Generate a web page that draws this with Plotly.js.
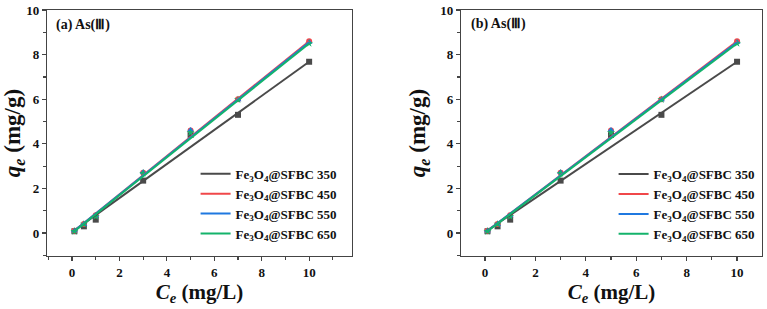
<!DOCTYPE html>
<html>
<head>
<meta charset="utf-8">
<script src="https://cdn.plot.ly/plotly-3.0.1.min.js"></script>
<style>html,body{margin:0;padding:0;background:#fff;}#chart{width:767px;height:309px;}</style>
</head>
<body>
<div id="chart"></div>
<script>
// Data
const ce = [0.1, 0.5, 1, 3, 5, 7, 10];
const q350 = [0.08, 0.3, 0.6, 2.35, 4.4, 5.3, 7.68];
const q450 = [0.1, 0.4, 0.8, 2.7, 4.6, 6.0, 8.6];
const q550 = [0.1, 0.38, 0.78, 2.72, 4.62, 5.98, 8.55];
const q650 = [0.08, 0.4, 0.75, 2.68, 4.5, 5.98, 8.5];
const fitX = [0.1, 10];
const fit350 = [0.12, 7.68];
const fit450 = [0.1, 8.6];
const fit550 = [0.1, 8.55];
const fit650 = [0.08, 8.5];
const seriesNames = ['Fe<sub>3</sub>O<sub>4</sub>@SFBC 350','Fe<sub>3</sub>O<sub>4</sub>@SFBC 450','Fe<sub>3</sub>O<sub>4</sub>@SFBC 550','Fe<sub>3</sub>O<sub>4</sub>@SFBC 650'];
const panelLabels = ['(a) As(Ⅲ)', '(b) As(Ⅲ)'];

const colors = ['#4a4a4a', '#f0474a', '#1f78e0', '#14b36b'];
const symbols = ['square', 'circle', 'triangle-up', 'star'];
const pts = [q350, q450, q550, q650];
const fits = [fit350, fit450, fit550, fit650];

const traces = [];
['x','x2'].forEach((xa, p) => {
  const ya = p === 0 ? 'y' : 'y2';
  const lg = p === 0 ? 'legend' : 'legend2';
  for (let i = 0; i < 4; i++) {
    traces.push({x: ce, y: pts[i], xaxis: xa, yaxis: ya, mode: 'markers', showlegend: false,
      marker: {symbol: symbols[i], size: 6, color: colors[i]}});
  }
  for (let i = 0; i < 4; i++) {
    traces.push({x: fitX, y: fits[i], xaxis: xa, yaxis: ya, mode: 'lines', name: seriesNames[i],
      legend: lg, line: {color: colors[i], width: 2}});
  }
});

const FAM = 'Liberation Serif';
const font = {family: FAM, color: '#111'};
function xax(domain, range, anchor) {
  return {domain: domain, range: range, anchor: anchor, showgrid: false, zeroline: false,
    showline: true, mirror: true, linecolor: '#444', linewidth: 1.2,
    ticks: 'outside', ticklen: 4, tickcolor: '#444', tickwidth: 1.2, dtick: 2, tick0: 0,
    minor: {dtick: 1, tick0: 0, ticks: 'outside', ticklen: 2.5, tickcolor: '#444'},
    tickfont: {family: FAM, size: 13, color: '#111', weight: 'bold'},
    title: {text: '<b><i>C<sub>e</sub></i> (mg/L)</b>', font: {family: FAM, size: 21, color: '#111'}, standoff: 4}};
}
function yax(anchor) {
  return {domain: [0.1715, 0.9676], range: [-1.03, 10], anchor: anchor, showgrid: false, zeroline: false,
    showline: true, mirror: true, linecolor: '#444', linewidth: 1.2,
    ticks: 'outside', ticklen: 4, tickcolor: '#444', tickwidth: 1.2, dtick: 2, tick0: 0,
    minor: {dtick: 1, tick0: 0, ticks: 'outside', ticklen: 2.5, tickcolor: '#444'},
    tickfont: {family: FAM, size: 13, color: '#111', weight: 'bold'},
    title: {text: '<b><i>q<sub>e</sub></i> (mg/g)</b>', font: {family: FAM, size: 23, color: '#111'}, standoff: 8}};
}

const legendBase = {bgcolor: 'rgba(0,0,0,0)', borderwidth: 0, xanchor: 'left', yanchor: 'top',
  font: {family: FAM, size: 13, color: '#111', weight: 'bold'}, tracegroupgap: 0, itemwidth: 30};

const layout = {
  width: 767, height: 309, margin: {l: 0, r: 0, t: 0, b: 0},
  paper_bgcolor: '#fff', plot_bgcolor: '#fff', font: font, showlegend: true,
  xaxis: xax([0.0613, 0.459], [-1.055, 11.81], 'y'),
  yaxis: yax('x'),
  xaxis2: xax([0.601, 0.9935], [-0.952, 10.99], 'y2'),
  yaxis2: yax('x2'),
  legend: Object.assign({}, legendBase, {x: 0.255, y: 0.486}),
  legend2: Object.assign({}, legendBase, {x: 0.8, y: 0.485}),
  annotations: [
    {text: '<b>' + panelLabels[0] + '</b>', xref: 'paper', yref: 'paper', x: 54/767, y: 1 - 25/309,
     xanchor: 'left', yanchor: 'middle', showarrow: false, font: {family: FAM, size: 14, color: '#111'}},
    {text: '<b>' + panelLabels[1] + '</b>', xref: 'paper', yref: 'paper', x: 469/767, y: 1 - 24/309,
     xanchor: 'left', yanchor: 'middle', showarrow: false, font: {family: FAM, size: 14, color: '#111'}}
  ]
};

Plotly.newPlot('chart', traces, layout, {displayModeBar: false, staticPlot: true});
</script>
</body>
</html>
